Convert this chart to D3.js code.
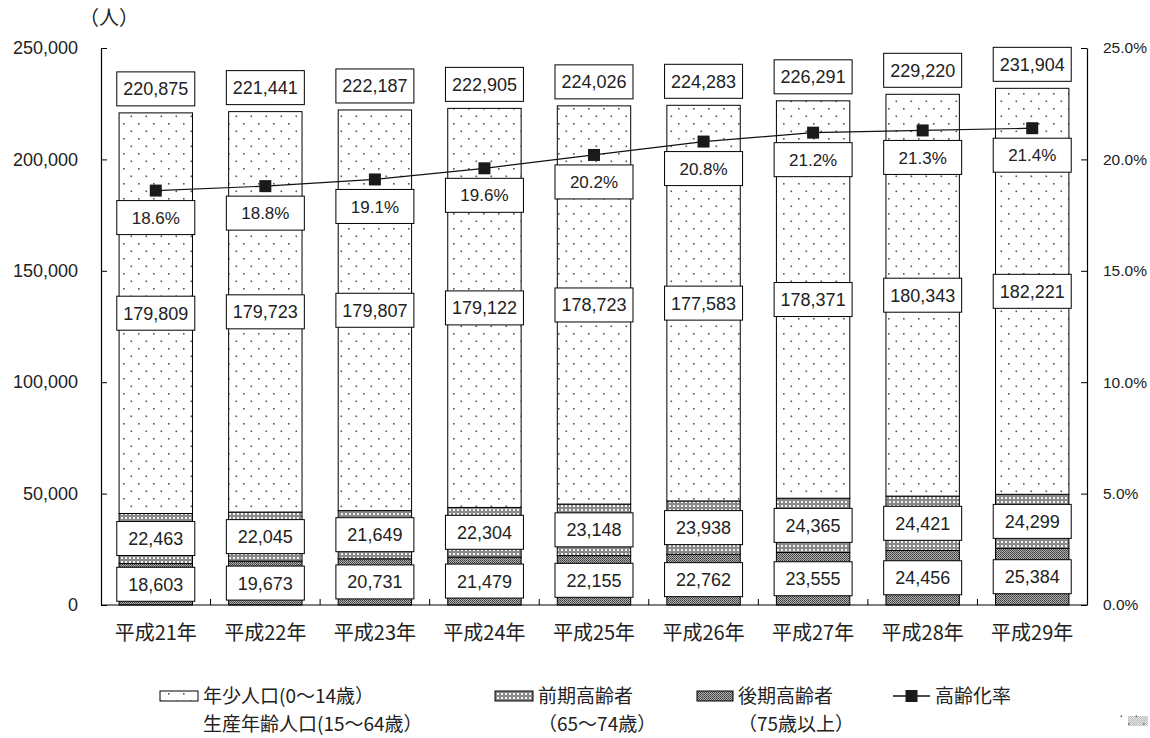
<!DOCTYPE html>
<html>
<head>
<meta charset="utf-8">
<script src="https://cdn.jsdelivr.net/npm/d3@7/dist/d3.min.js"></script>
<style>
  body { margin: 0; background: #fff; }
  svg { display: block; }
  text { fill: #222; }
  .num { font-family: "Liberation Sans", Arial, sans-serif; }
  .jp { font-family: "Noto Sans CJK JP", sans-serif; }
  .axis path, .axis line { stroke: #000; }
</style>
</head>
<body>
<svg width="1150" height="738"></svg>
<script>
// data
const years = ["平成21年", "平成22年", "平成23年", "平成24年", "平成25年", "平成26年", "平成27年", "平成28年", "平成29年"]
const youngWorking = [179809, 179723, 179807, 179122, 178723, 177583, 178371, 180343, 182221]
const earlyElderly = [22463, 22045, 21649, 22304, 23148, 23938, 24365, 24421, 24299]
const lateElderly = [18603, 19673, 20731, 21479, 22155, 22762, 23555, 24456, 25384]
const totals = [220875, 221441, 222187, 222905, 224026, 224283, 226291, 229220, 231904]
const agingRate = [18.6, 18.8, 19.1, 19.6, 20.2, 20.8, 21.2, 21.3, 21.4]
const leftTicks = [0, 50000, 100000, 150000, 200000, 250000]
const rightTicks = [0, 5, 10, 15, 20, 25]

var svg = d3.select('svg')

var settings = { left: 101, right: 1087, top: 48, bottom: 605 }

const x = d3.scaleBand()
  .domain(years)
  .range([settings.left, settings.right])
  .paddingInner(0.33)
  .paddingOuter(0.165)

const y = d3.scaleLinear().domain([0, 250000]).range([settings.bottom, settings.top])
const y2 = d3.scaleLinear().domain([0, 25]).range([settings.bottom, settings.top])

// patterns
const defs = svg.append('defs')

const dots = defs.append('pattern')
  .attr('id', 'dots').attr('patternUnits', 'userSpaceOnUse')
  .attr('width', 15).attr('height', 15)
dots.append('rect').attr('width', 15).attr('height', 15).attr('fill', '#fff')
dots.append('rect').attr('x', 3).attr('y', 3).attr('width', 1.6).attr('height', 1.6).attr('fill', '#555')
dots.append('rect').attr('x', 10.5).attr('y', 10.5).attr('width', 1.6).attr('height', 1.6).attr('fill', '#555')

const light = defs.append('pattern')
  .attr('id', 'light').attr('patternUnits', 'userSpaceOnUse')
  .attr('width', 4).attr('height', 4)
light.append('rect').attr('width', 4).attr('height', 4).attr('fill', '#8a8a8a')
light.append('rect').attr('x', 1).attr('y', 1).attr('width', 2).attr('height', 2).attr('fill', '#f4f4f4')

const dark = defs.append('pattern')
  .attr('id', 'dark').attr('patternUnits', 'userSpaceOnUse')
  .attr('width', 2).attr('height', 2)
dark.append('rect').attr('width', 2).attr('height', 2).attr('fill', '#b0b0b0')
dark.append('rect').attr('width', 1).attr('height', 1).attr('fill', '#3a3a3a')
dark.append('rect').attr('x', 1).attr('y', 1).attr('width', 1).attr('height', 1).attr('fill', '#555')

// stacked bars
var rows = years.map((yr, i) => ({
  year: yr,
  late: lateElderly[i],
  early: earlyElderly[i],
  young: youngWorking[i],
  total: totals[i],
  rate: agingRate[i]
}))

const keys = ['late', 'early', 'young']
const fills = { late: 'url(#dark)', early: 'url(#light)', young: 'url(#dots)' }
const stack = d3.stack().keys(keys)(rows)

var bars = svg.append('g').attr('class', 'bars')

stack.forEach(layer => {
  bars.selectAll(null)
    .data(layer)
    .enter()
    .append('rect')
    .attr('x', d => x(d.data.year))
    .attr('width', x.bandwidth())
    .attr('y', d => y(d[1]))
    .attr('height', d => y(d[0]) - y(d[1]))
    .attr('fill', fills[layer.key])
    .attr('stroke', '#000')
    .attr('stroke-width', 1)
})

// axes
const gLeft = svg.append('g')
  .attr('class', 'axis num')
  .attr('transform', `translate(${settings.left},0)`)
  .call(d3.axisLeft(y).tickValues(leftTicks).tickFormat(d3.format(',')).tickSizeInner(-6).tickSizeOuter(0).tickPadding(23))

const gRight = svg.append('g')
  .attr('class', 'axis num')
  .attr('transform', `translate(${settings.right},0)`)
  .call(d3.axisRight(y2).tickValues(rightTicks).tickFormat(d => d.toFixed(1) + '%').tickSizeInner(-6).tickSizeOuter(0).tickPadding(16))

gLeft.selectAll('text').attr('font-size', 18).style('fill', '#222')
gRight.selectAll('text').attr('font-size', 15.5).style('fill', '#222')
svg.selectAll('.axis .domain').attr('stroke-width', 1.2)

// bottom axis with ticks between categories
const step = x.step()
const bottom = svg.append('g').attr('class', 'x-axis')
bottom.append('line')
  .attr('x1', settings.left).attr('x2', settings.right)
  .attr('y1', settings.bottom).attr('y2', settings.bottom)
  .attr('stroke', '#000').attr('stroke-width', 1.2)

bottom.selectAll('line.tick')
  .data(years.slice(1))
  .enter()
  .append('line')
  .attr('class', 'tick')
  .attr('x1', d => x(d) - step * 0.33 / 2)
  .attr('x2', d => x(d) - step * 0.33 / 2)
  .attr('y1', settings.bottom - 6)
  .attr('y2', settings.bottom)
  .attr('stroke', '#000')

bottom.selectAll('text')
  .data(years)
  .enter()
  .append('text')
  .attr('class', 'jp')
  .attr('x', d => x(d) + x.bandwidth() / 2)
  .attr('y', 633)
  .attr('dy', '0.35em')
  .attr('text-anchor', 'middle')
  .attr('font-size', 20)
  .text(d => d)

// unit
svg.append('text').attr('class', 'jp')
  .attr('x', 109).attr('y', 18).attr('dy', '0.35em')
  .attr('text-anchor', 'middle').attr('font-size', 20)
  .text('（人）')

// aging-rate line
const line = d3.line()
  .x(d => x(d.year) + x.bandwidth() / 2)
  .y(d => y2(d.rate))

svg.append('path')
  .datum(rows)
  .attr('d', line)
  .attr('fill', 'none')
  .attr('stroke', '#111')
  .attr('stroke-width', 1.2)

svg.selectAll('rect.marker')
  .data(rows)
  .enter()
  .append('rect')
  .attr('class', 'marker')
  .attr('x', d => x(d.year) + x.bandwidth() / 2 - 6)
  .attr('y', d => y2(d.rate) - 6)
  .attr('width', 12)
  .attr('height', 12)
  .attr('fill', '#1a1a1a')

// label boxes
const boxW = 78, boxH = 34
var labels = []
rows.forEach(d => {
  const cx = x(d.year) + x.bandwidth() / 2
  labels.push({ cx: cx, cy: y(d.late / 2), text: d3.format(',')(d.late) })
  labels.push({ cx: cx, cy: y(d.late + d.early / 2), text: d3.format(',')(d.early) })
  labels.push({ cx: cx, cy: y(d.late + d.early + d.young / 2), text: d3.format(',')(d.young) })
  labels.push({ cx: cx, cy: y(d.total) - 24, text: d3.format(',')(d.total) })
  labels.push({ cx: cx, cy: y2(d.rate) + 27, text: d.rate.toFixed(1) + '%' })
})

var lb = svg.append('g').attr('class', 'labels')
  .selectAll('g')
  .data(labels)
  .enter()
  .append('g')
  .attr('transform', d => `translate(${d.cx},${d.cy})`)

lb.append('rect')
  .attr('x', -boxW / 2).attr('y', -boxH / 2)
  .attr('width', boxW).attr('height', boxH)
  .attr('fill', '#fff').attr('stroke', '#000').attr('stroke-width', 1)

lb.append('text')
  .attr('class', 'num')
  .attr('text-anchor', 'middle')
  .attr('dy', '0.36em')
  .attr('font-size', d => d.text.endsWith('%') ? 17 : 18)
  .text(d => d.text)

// legend
var legend = svg.append('g').attr('class', 'legend jp')
const legendItems = [
  { swatch: 'url(#dots)', x: 160, w: 38, lines: ['年少人口(0～14歳）', '生産年齢人口(15～64歳）'] },
  { swatch: 'url(#light)', x: 495, w: 38, lines: ['前期高齢者', '（65～74歳）'] },
  { swatch: 'url(#dark)', x: 697, w: 36, lines: ['後期高齢者', '（75歳以上）'] },
  { swatch: 'line', x: 893, w: 37, lines: ['高齢化率'] }
]

legendItems.forEach(item => {
  if (item.swatch === 'line') {
    legend.append('line')
      .attr('x1', item.x).attr('x2', item.x + item.w)
      .attr('y1', 696).attr('y2', 696)
      .attr('stroke', '#111').attr('stroke-width', 1.5)
    legend.append('rect')
      .attr('x', item.x + item.w / 2 - 6).attr('y', 690)
      .attr('width', 12).attr('height', 12).attr('fill', '#1a1a1a')
  } else {
    legend.append('rect')
      .attr('x', item.x).attr('y', 691)
      .attr('width', item.w).attr('height', 10)
      .attr('fill', item.swatch).attr('stroke', '#000').attr('stroke-width', 1)
  }
  item.lines.forEach((t, i) => {
    legend.append('text')
      .attr('x', item.x + item.w + 5)
      .attr('y', 696 + i * 28)
      .attr('dy', '0.35em')
      .attr('font-size', 19)
      .text(t)
  })
})

// small speckle mark at bottom right
svg.append('rect')
  .attr('x', 1120).attr('y', 713).attr('width', 28).attr('height', 14)
  .attr('fill', 'url(#dots)').attr('opacity', 0.9)
svg.append('rect')
  .attr('x', 1128).attr('y', 716).attr('width', 20).attr('height', 10)
  .attr('fill', 'url(#dark)').attr('opacity', 0.35)
</script>
</body>
</html>
